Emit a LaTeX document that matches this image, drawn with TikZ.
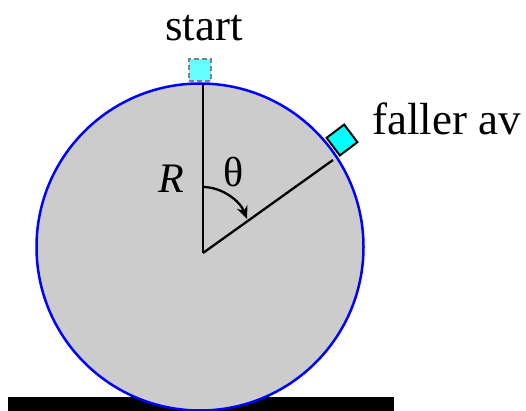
\documentclass[tikz,border=0pt]{standalone}
\usepackage{fontspec}
\newfontfamily\tms{Liberation Serif}
\usetikzlibrary{arrows.meta}
\definecolor{cyfull}{RGB}{0,255,255}
\definecolor{cylight}{RGB}{102,255,255}
\definecolor{ballgray}{RGB}{204,204,204}
\definecolor{pureblue}{RGB}{0,0,255}
\begin{document}
\begin{tikzpicture}[x=1pt,y=-1pt,
  mass/.style={draw,line width=2pt,minimum size=22pt,inner sep=0pt},
  ray/.style={line width=2.3pt,black}]
\useasboundingbox (0,0) rectangle (526,411);
% ground
\fill[black] (8,396.7) rectangle (394,412);
% sphere
\node[circle,draw=pureblue,line width=2.5pt,fill=ballgray,minimum size=327pt,inner sep=0pt] (ball) at (200,247) {};
\coordinate (O) at (203,253);
\coordinate (T) at (203,84);
\coordinate (P) at (333,160);
\draw[ray] (O) -- (T);
\draw[ray] (O) -- (P);
% masses
\node[mass,draw=gray,dash pattern=on 5pt off 3pt,fill=cylight] (m0) at (199.5,70) {};
\node[mass,draw=black,fill=cyfull,rotate=37] (m1) at (342,140) {};
% angle arrow
\coordinate (a0) at (203,187);
\coordinate (a1) at (247,219);
\draw[ray,-{Stealth[length=13pt,width=11pt]}] (a0) .. controls (222,187) and (240,201) .. (a1);
% labels
\node[anchor=base,inner sep=0pt] (ts) at (204,41) {\tms\fontsize{45}{50}\selectfont start};
\node[anchor=base west,inner sep=0pt] (tf) at (372,135) {\tms\fontsize{45}{50}\selectfont faller av};
\node[anchor=base,inner sep=0pt] (tR) at (171,193) {\tms\fontsize{42}{46}\selectfont\itshape R};
\node[anchor=base,inner sep=0pt] (tt) at (234,187) {\tms\fontsize{42}{46}\selectfont\symbol{"03B8}};
\end{tikzpicture}
\end{document}
